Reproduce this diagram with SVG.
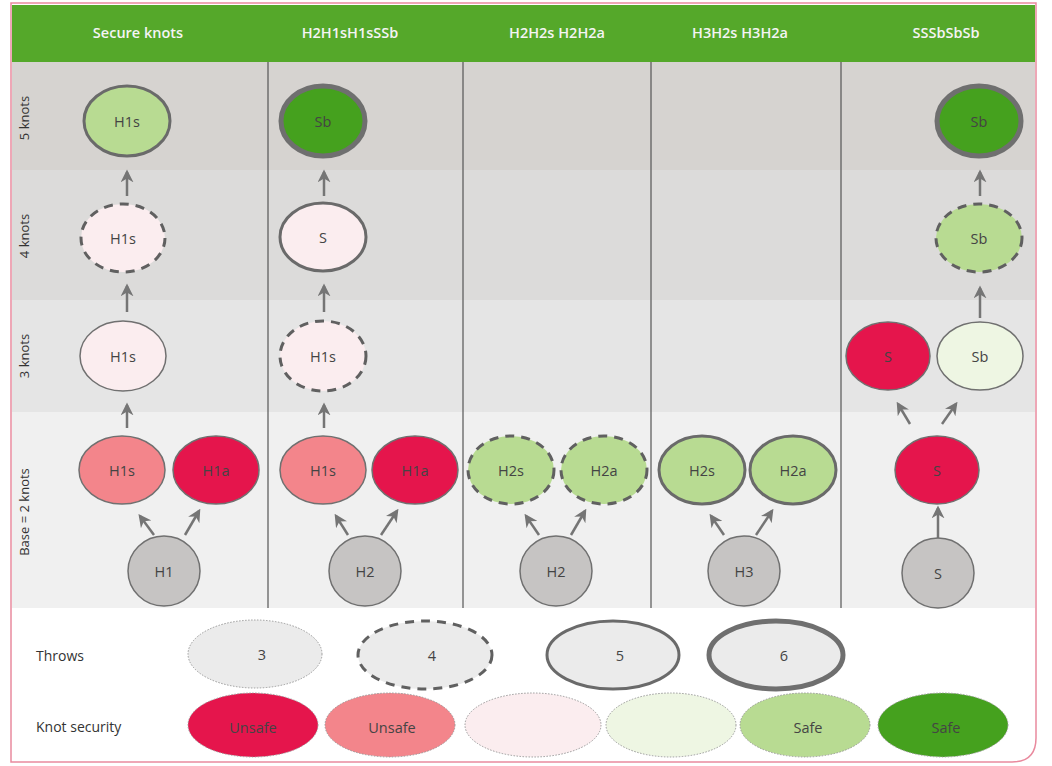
<svg xmlns="http://www.w3.org/2000/svg" width="1052" height="766" viewBox="0 0 1052 766">
<defs>
<marker id="ah" viewBox="0 0 10 10" refX="8" refY="5" markerWidth="5.2" markerHeight="5.2" orient="auto" markerUnits="strokeWidth">
<path d="M0,0 L10,5 L0,10 L3,5 z" fill="#757575"/>
</marker>
<style>
.hd{font-family:"Open Sans","Noto Sans",sans-serif;font-size:14.5px;font-weight:600;fill:#f4f4f4;text-anchor:middle}
.rl{font-family:"Open Sans","Noto Sans",sans-serif;font-size:13px;fill:#333;text-anchor:middle}
.lg{font-family:"Open Sans","Noto Sans",sans-serif;font-size:14px;fill:#333}
.t{font-family:"Open Sans","Noto Sans",sans-serif;font-size:14.5px;fill:#444;text-anchor:middle;dominant-baseline:central}
.div{stroke:#555;stroke-width:1.2}
.arr{stroke:#757575;stroke-width:2.5;fill:none;marker-end:url(#ah)}
.thin{stroke:#707070;stroke-width:1.5}
.dash{stroke:#606060;stroke-width:3;stroke-dasharray:9 7}
.s5{stroke:#6a6a6a;stroke-width:3}
.s6{stroke:#6f6f6f;stroke-width:5}
.dot{stroke:#9a9a9a;stroke-width:1;stroke-dasharray:1.5 1.5}
.crim{fill:#e5154c}
.salm{fill:#f3858b}
.lpink{fill:#fbedef}
.lgrn{fill:#eef6e3}
.mgrn{fill:#b8db92}
.dgrn{fill:#45a11e}
.gray{fill:#c6c4c3}
.lgray{fill:#ebebeb}
</style>
</defs>
<rect x="0" y="0" width="1052" height="766" fill="#ffffff"/>
<g id="bands">
<rect x="12" y="62" width="1023" height="108" fill="#d6d3d0"/>
<rect x="12" y="170" width="1023" height="130" fill="#dcdbda"/>
<rect x="12" y="300" width="1023" height="112" fill="#e5e5e5"/>
<rect x="12" y="412" width="1023" height="196" fill="#f0f0f0"/>
<rect x="12" y="5" width="1023" height="57" fill="#55a82a"/>
</g>
<path d="M11,3 H1036 V738 Q1036,762 1012,762 H11 Z" fill="none" stroke="#e98a9e" stroke-width="1.5"/>
<g id="dividers">
<line class="div" x1="268" y1="62" x2="268" y2="608"/>
<line class="div" x1="463" y1="62" x2="463" y2="608"/>
<line class="div" x1="651" y1="62" x2="651" y2="608"/>
<line class="div" x1="841" y1="62" x2="841" y2="608"/>
</g>
<g id="headers">
<text class="hd" x="138" y="38">Secure knots</text>
<text class="hd" x="350" y="38">H2H1sH1sSSb</text>
<text class="hd" x="557" y="38">H2H2s H2H2a</text>
<text class="hd" x="740" y="38">H3H2s H3H2a</text>
<text class="hd" x="946" y="38">SSSbSbSb</text>
</g>
<g id="rowlabels">
<text class="rl" transform="translate(29,118) rotate(-90)">5 knots</text>
<text class="rl" transform="translate(29,236) rotate(-90)">4 knots</text>
<text class="rl" transform="translate(29,356) rotate(-90)">3 knots</text>
<text class="rl" transform="translate(29,512) rotate(-90)">Base = 2 knots</text>
</g>
<g id="connectors">
<line class="arr" x1="127" y1="196" x2="127" y2="172"/>
<line class="arr" x1="127" y1="312" x2="127" y2="286"/>
<line class="arr" x1="127" y1="428" x2="127" y2="405"/>
<line class="arr" x1="154" y1="535" x2="140" y2="516"/>
<line class="arr" x1="185" y1="535" x2="199" y2="511"/>
<line class="arr" x1="324" y1="196" x2="324" y2="172"/>
<line class="arr" x1="324" y1="312" x2="324" y2="286"/>
<line class="arr" x1="324" y1="428" x2="324" y2="405"/>
<line class="arr" x1="348" y1="535" x2="336" y2="516"/>
<line class="arr" x1="381" y1="535" x2="397" y2="511"/>
<line class="arr" x1="539" y1="535" x2="526" y2="516"/>
<line class="arr" x1="571" y1="535" x2="585" y2="511"/>
<line class="arr" x1="724" y1="535" x2="711" y2="516"/>
<line class="arr" x1="756" y1="535" x2="772" y2="511"/>
<line class="arr" x1="980" y1="196" x2="980" y2="172"/>
<line class="arr" x1="980" y1="318" x2="980" y2="288"/>
<line class="arr" x1="910" y1="424" x2="898" y2="404"/>
<line class="arr" x1="942" y1="424" x2="956" y2="404"/>
<line class="arr" x1="938" y1="540" x2="938" y2="508"/>
</g>
<g id="n-c1-5"><ellipse class="mgrn s5" cx="127" cy="121" rx="43" ry="35"/><text class="t" x="127" y="121">H1s</text></g>
<g id="n-c1-4"><ellipse class="lpink dash" cx="123" cy="238" rx="42" ry="34"/><text class="t" x="123" y="238">H1s</text></g>
<g id="n-c1-3"><ellipse class="lpink thin" cx="123" cy="356" rx="43" ry="35"/><text class="t" x="123" y="356">H1s</text></g>
<g id="n-c1-b1"><ellipse class="salm thin" cx="122" cy="470" rx="43" ry="34"/><text class="t" x="122" y="470">H1s</text></g>
<g id="n-c1-b2"><ellipse class="crim thin" cx="216" cy="470" rx="43" ry="34"/><text class="t" x="216" y="470">H1a</text></g>
<g id="n-c1-r"><ellipse class="gray thin" cx="164" cy="571" rx="36" ry="35"/><text class="t" x="164" y="571">H1</text></g>
<g id="n-c2-5"><ellipse class="dgrn s6" cx="323" cy="121" rx="42" ry="35"/><text class="t" x="323" y="121">Sb</text></g>
<g id="n-c2-4"><ellipse class="lpink s5" cx="323" cy="237" rx="43" ry="34"/><text class="t" x="323" y="237">S</text></g>
<g id="n-c2-3"><ellipse class="lpink dash" cx="323" cy="356" rx="43" ry="35"/><text class="t" x="323" y="356">H1s</text></g>
<g id="n-c2-b1"><ellipse class="salm thin" cx="323" cy="470" rx="43" ry="34"/><text class="t" x="323" y="470">H1s</text></g>
<g id="n-c2-b2"><ellipse class="crim thin" cx="415" cy="470" rx="43" ry="34"/><text class="t" x="415" y="470">H1a</text></g>
<g id="n-c2-r"><ellipse class="gray thin" cx="365" cy="571" rx="36" ry="35"/><text class="t" x="365" y="571">H2</text></g>
<g id="n-c3-b1"><ellipse class="mgrn dash" cx="511" cy="470" rx="43" ry="34"/><text class="t" x="511" y="470">H2s</text></g>
<g id="n-c3-b2"><ellipse class="mgrn dash" cx="604" cy="470" rx="43" ry="34"/><text class="t" x="604" y="470">H2a</text></g>
<g id="n-c3-r"><ellipse class="gray thin" cx="556" cy="571" rx="36" ry="35"/><text class="t" x="556" y="571">H2</text></g>
<g id="n-c4-b1"><ellipse class="mgrn s5" cx="702" cy="470" rx="43" ry="34"/><text class="t" x="702" y="470">H2s</text></g>
<g id="n-c4-b2"><ellipse class="mgrn s5" cx="793" cy="470" rx="43" ry="34"/><text class="t" x="793" y="470">H2a</text></g>
<g id="n-c4-r"><ellipse class="gray thin" cx="744" cy="571" rx="36" ry="35"/><text class="t" x="744" y="571">H3</text></g>
<g id="n-c5-5"><ellipse class="dgrn s6" cx="979" cy="121" rx="42" ry="35"/><text class="t" x="979" y="121">Sb</text></g>
<g id="n-c5-4"><ellipse class="mgrn dash" cx="979" cy="238" rx="43" ry="34"/><text class="t" x="979" y="238">Sb</text></g>
<g id="n-c5-3a"><ellipse class="crim thin" cx="888" cy="356" rx="42" ry="34"/><text class="t" x="888" y="356">S</text></g>
<g id="n-c5-3b"><ellipse class="lgrn thin" cx="980" cy="356" rx="43" ry="34"/><text class="t" x="980" y="356">Sb</text></g>
<g id="n-c5-b"><ellipse class="crim thin" cx="937" cy="470" rx="42" ry="34"/><text class="t" x="937" y="470">S</text></g>
<g id="n-c5-r"><ellipse class="gray thin" cx="938" cy="573" rx="36" ry="35"/><text class="t" x="938" y="573">S</text></g>
<g id="legend-throws">
<text class="lg" x="36" y="661">Throws</text>
<ellipse class="lgray dot" cx="255" cy="654" rx="67" ry="34"/><text class="t" x="262" y="654">3</text>
<ellipse class="lgray dash" cx="425" cy="655" rx="67" ry="34"/><text class="t" x="432" y="655">4</text>
<ellipse class="lgray s5" cx="613" cy="655" rx="66" ry="34"/><text class="t" x="620" y="655">5</text>
<ellipse class="lgray s6" cx="776" cy="655" rx="67" ry="34"/><text class="t" x="784" y="655">6</text>
</g>
<g id="legend-security">
<text class="lg" x="36" y="732">Knot security</text>
<ellipse class="crim dot" cx="253" cy="725" rx="65" ry="32"/><text class="t" x="253" y="727">Unsafe</text>
<ellipse class="salm dot" cx="390" cy="725" rx="65" ry="32"/><text class="t" x="392" y="727">Unsafe</text>
<ellipse class="lpink dot" cx="533" cy="725" rx="68" ry="32"/>
<ellipse class="lgrn dot" cx="671" cy="725" rx="65" ry="32"/>
<ellipse class="mgrn dot" cx="805" cy="725" rx="65" ry="32"/><text class="t" x="808" y="727">Safe</text>
<ellipse class="dgrn dot" cx="943" cy="725" rx="65" ry="32"/><text class="t" x="946" y="727">Safe</text>
</g>
</svg>
